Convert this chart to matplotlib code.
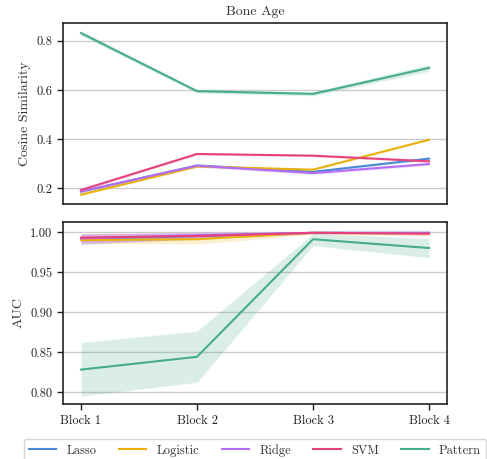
import numpy as np
import matplotlib
matplotlib.use("Agg")
import matplotlib.pyplot as plt

plt.rcParams['font.family'] = 'serif'
plt.rcParams['font.serif'] = ['cmr10', 'DejaVu Serif']
plt.rcParams['mathtext.fontset'] = 'cm'
plt.rcParams['axes.formatter.use_mathtext'] = True
plt.rcParams['axes.unicode_minus'] = False

blocks = ['Block 1', 'Block 2', 'Block 3', 'Block 4']
models = ['Lasso', 'Logistic', 'Ridge', 'SVM', 'Pattern']
colors = ['#4a8ad2', '#e8b10c', '#b56cf5', '#e6417f', '#46ad88']

# cosine similarity: mean, lower, upper
cos_mean = {
    'Lasso':    [0.186, 0.292, 0.266, 0.320],
    'Logistic': [0.173, 0.288, 0.275, 0.397],
    'Ridge':    [0.186, 0.291, 0.261, 0.298],
    'SVM':      [0.192, 0.339, 0.332, 0.309],
    'Pattern':  [0.832, 0.595, 0.584, 0.690],
}
cos_lo = {
    'Lasso':    [0.181, 0.287, 0.261, 0.314],
    'Logistic': [0.169, 0.284, 0.271, 0.393],
    'Ridge':    [0.180, 0.285, 0.255, 0.292],
    'SVM':      [0.187, 0.334, 0.328, 0.305],
    'Pattern':  [0.822, 0.588, 0.576, 0.676],
}
cos_hi = {
    'Lasso':    [0.191, 0.297, 0.271, 0.326],
    'Logistic': [0.177, 0.292, 0.279, 0.401],
    'Ridge':    [0.192, 0.297, 0.267, 0.304],
    'SVM':      [0.197, 0.344, 0.336, 0.313],
    'Pattern':  [0.842, 0.602, 0.592, 0.704],
}

# AUC: mean, lower, upper
auc_mean = {
    'Lasso':    [0.991, 0.995, 0.999, 0.999],
    'Logistic': [0.990, 0.991, 0.999, 0.998],
    'Ridge':    [0.992, 0.996, 0.999, 0.999],
    'SVM':      [0.993, 0.995, 0.999, 0.998],
    'Pattern':  [0.828, 0.844, 0.991, 0.980],
}
auc_lo = {
    'Lasso':    [0.985, 0.991, 0.998, 0.998],
    'Logistic': [0.986, 0.985, 0.997, 0.996],
    'Ridge':    [0.984, 0.992, 0.998, 0.998],
    'SVM':      [0.987, 0.991, 0.998, 0.996],
    'Pattern':  [0.795, 0.812, 0.983, 0.968],
}
auc_hi = {
    'Lasso':    [0.997, 0.999, 1.000, 1.000],
    'Logistic': [0.994, 0.996, 1.000, 1.000],
    'Ridge':    [0.998, 1.000, 1.000, 1.000],
    'SVM':      [0.998, 0.999, 1.000, 1.000],
    'Pattern':  [0.862, 0.876, 0.998, 0.992],
}

x = np.arange(len(blocks))

fig = plt.figure(figsize=(4.87, 4.59), dpi=100)
ax1 = fig.add_axes([0.1294, 0.5556, 0.7885, 0.3943])
ax2 = fig.add_axes([0.1294, 0.1198, 0.7885, 0.3965], sharex=ax1)

def draw(ax, mean, lo, hi):
    for m, c in zip(models, colors):
        ax.fill_between(x, lo[m], hi[m], color=c, alpha=0.2, linewidth=0)
        ax.plot(x, mean[m], color=c, linewidth=1.5, label=m)
    ax.grid(axis='y', color='#cccccc', linewidth=1)
    ax.set_axisbelow(True)
    for s in ax.spines.values():
        s.set_linewidth(1.2)
        s.set_color('#222222')
    ax.tick_params(axis='y', labelsize=9, length=4, width=1, colors='#222222')
    ax.tick_params(axis='x', labelsize=9, length=4, width=1, colors='#222222')

draw(ax1, cos_mean, cos_lo, cos_hi)
draw(ax2, auc_mean, auc_lo, auc_hi)

ax1.set_ylim(0.135, 0.873)
ax1.set_yticks([0.2, 0.4, 0.6, 0.8])
ax1.set_yticklabels(['0.2', '0.4', '0.6', '0.8'])
ax1.set_ylabel('Cosine Similarity', fontsize=10, color='#333333')
ax1.set_title('Bone Age', fontsize=10, color='#333333')
ax1.tick_params(axis='x', bottom=False, labelbottom=False)

ax2.set_ylim(0.785, 1.0125)
ax2.set_yticks([0.80, 0.85, 0.90, 0.95, 1.00])
ax2.set_yticklabels(['0.80', '0.85', '0.90', '0.95', '1.00'])
ax2.set_ylabel('AUC', fontsize=10, color='#333333')
ax2.set_xticks(x)
ax2.set_xticklabels(blocks)
ax2.set_xlim(-0.155, 3.155)

handles, labels = ax2.get_legend_handles_labels()
leg = fig.legend(handles, labels, loc='upper left', ncol=5, mode='expand',
                 bbox_to_anchor=(0.049, 0.0436, 0.949, 0), bbox_transform=fig.transFigure,
                 fontsize=9, frameon=True, fancybox=True, handlelength=2.2, borderaxespad=0)
leg.get_frame().set_edgecolor('#cccccc')
for t in leg.get_texts():
    t.set_color('#333333')

fig.savefig('out.png', dpi=100)
